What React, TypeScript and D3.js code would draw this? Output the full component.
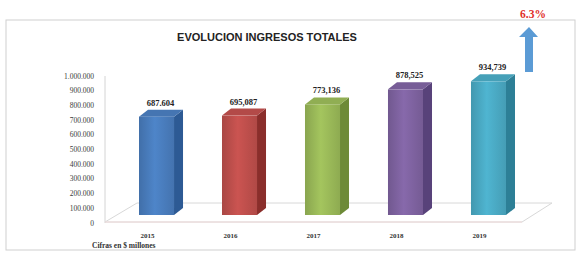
import React from 'react';
import * as d3 from 'd3';

const years = ['2015', '2016', '2017', '2018', '2019'];
const ingresos = [687604, 695087, 773136, 878525, 934739];
const valueLabels = ['687.604', '695,087', '773,136', '878,525', '934,739'];
const tickValues = [0, 100000, 200000, 300000, 400000, 500000, 600000, 700000, 800000, 900000, 1000000];
const frontColors = ['#4a7ebf', '#c0504d', '#9bbb59', '#8064a2', '#4bacc6'];
const sideColors = ['#2d5a94', '#8a2e2b', '#6d8a37', '#58427a', '#2d7f96'];

const W = 577;
const H = 255;
const depthX = 9;
const depthY = 7;

const fmt = (v: number) => d3.format(',')(v).replace(/,/g, '.');

export default function App() {
  // escala para las etiquetas del eje
  const yAxis = d3.scaleLinear().domain([0, 1000000]).range([223, 76]);
  // escala de las barras (perspectiva 3D, piso mas arriba)
  const yBar = d3.scaleLinear().domain([0, 1000000]).range([215, 72]);
  const x = d3.scaleBand().domain(years).range([139, 506]).paddingInner(0.578).paddingOuter(0);
  const bw = x.bandwidth();

  return (
    <div style={{ position: 'fixed', left: 0, top: 0 }}>
      <svg width={W} height={H} style={{ display: 'block', background: '#fff' }}>
        <defs>
          {frontColors.map((c, i) => (
            <linearGradient key={i} id={'g' + i} x1="0" x2="1" y1="0" y2="0">
              <stop offset="0" stopColor={d3.color(c)!.darker(0.35).toString()} />
              <stop offset="0.45" stopColor={d3.color(c)!.brighter(0.15).toString()} />
              <stop offset="1" stopColor={d3.color(c)!.darker(0.25).toString()} />
            </linearGradient>
          ))}
        </defs>

        {/* marco */}
        <rect x={6} y={20} width={569} height={230} fill="none" stroke="#cfcfcf" strokeWidth={1} />

        <text x={267} y={41} textAnchor="middle" fontFamily="Liberation Sans, Arial, sans-serif"
          fontWeight="bold" fontSize={11} fill="#222">EVOLUCION INGRESOS TOTALES</text>

        {/* eje */}
        <line x1={105} x2={105} y1={yAxis(1000000)} y2={yAxis(0)} stroke="#d4d4d4" />
        {tickValues.map((t) => (
          <text key={t} x={94} y={yAxis(t) + 2.5} textAnchor="end" fontSize={7.5}
            fontFamily="Liberation Serif, serif" fill="#3a3a3a">{fmt(t)}</text>
        ))}

        {/* piso */}
        <polygon
          points={`105,${yAxis(0) - 1} 137,203 552,203 522,${yAxis(0) - 1}`}
          fill="none" stroke="#d8d8d8" strokeWidth={1}
        />
        <line x1={105} x2={522} y1={yAxis(0) - 1} y2={yAxis(0) - 1} stroke="#efdada" />

        {/* barras */}
        {years.map((yr, i) => {
          const x0 = x(yr)!;
          const top = yBar(ingresos[i]);
          const bot = yBar(0);
          return (
            <g key={yr}>
              <polygon
                points={`${x0 + bw},${top} ${x0 + bw + depthX},${top - depthY} ${x0 + bw + depthX},${bot - depthY} ${x0 + bw},${bot}`}
                fill={sideColors[i]}
              />
              <polygon
                points={`${x0},${top} ${x0 + depthX},${top - depthY} ${x0 + bw + depthX},${top - depthY} ${x0 + bw},${top}`}
                fill={d3.color(frontColors[i])!.darker(0.2).toString()}
              />
              <rect x={x0} y={top} width={bw} height={bot - top} fill={`url(#g${i})`} />
              <text x={x0 + bw / 2 + 4} y={top - depthY - 4} textAnchor="middle" fontSize={8.5}
                fontWeight="bold" fontFamily="Liberation Serif, serif" fill="#222">{valueLabels[i]}</text>
              <text x={x0 + bw / 2 - 9} y={237.5} textAnchor="middle" fontSize={7}
                fontWeight="bold" fontFamily="Liberation Serif, serif" fill="#333">{yr}</text>
            </g>
          );
        })}

        <text x={92} y={247.5} fontSize={7.5} fontWeight="bold" fontFamily="Liberation Serif, serif"
          fill="#333">Cifras en $ millones</text>

        {/* flecha de crecimiento */}
        <polygon points="529,27 538,37 533,37 533,72 525,72 525,37 519,37" fill="#5b9bd5" />
        <text x={533} y={18} textAnchor="middle" fontSize={11.5} fontWeight="bold"
          fontFamily="Liberation Serif, serif" fill="#e0302a">6.3%</text>
      </svg>
    </div>
  );
}
